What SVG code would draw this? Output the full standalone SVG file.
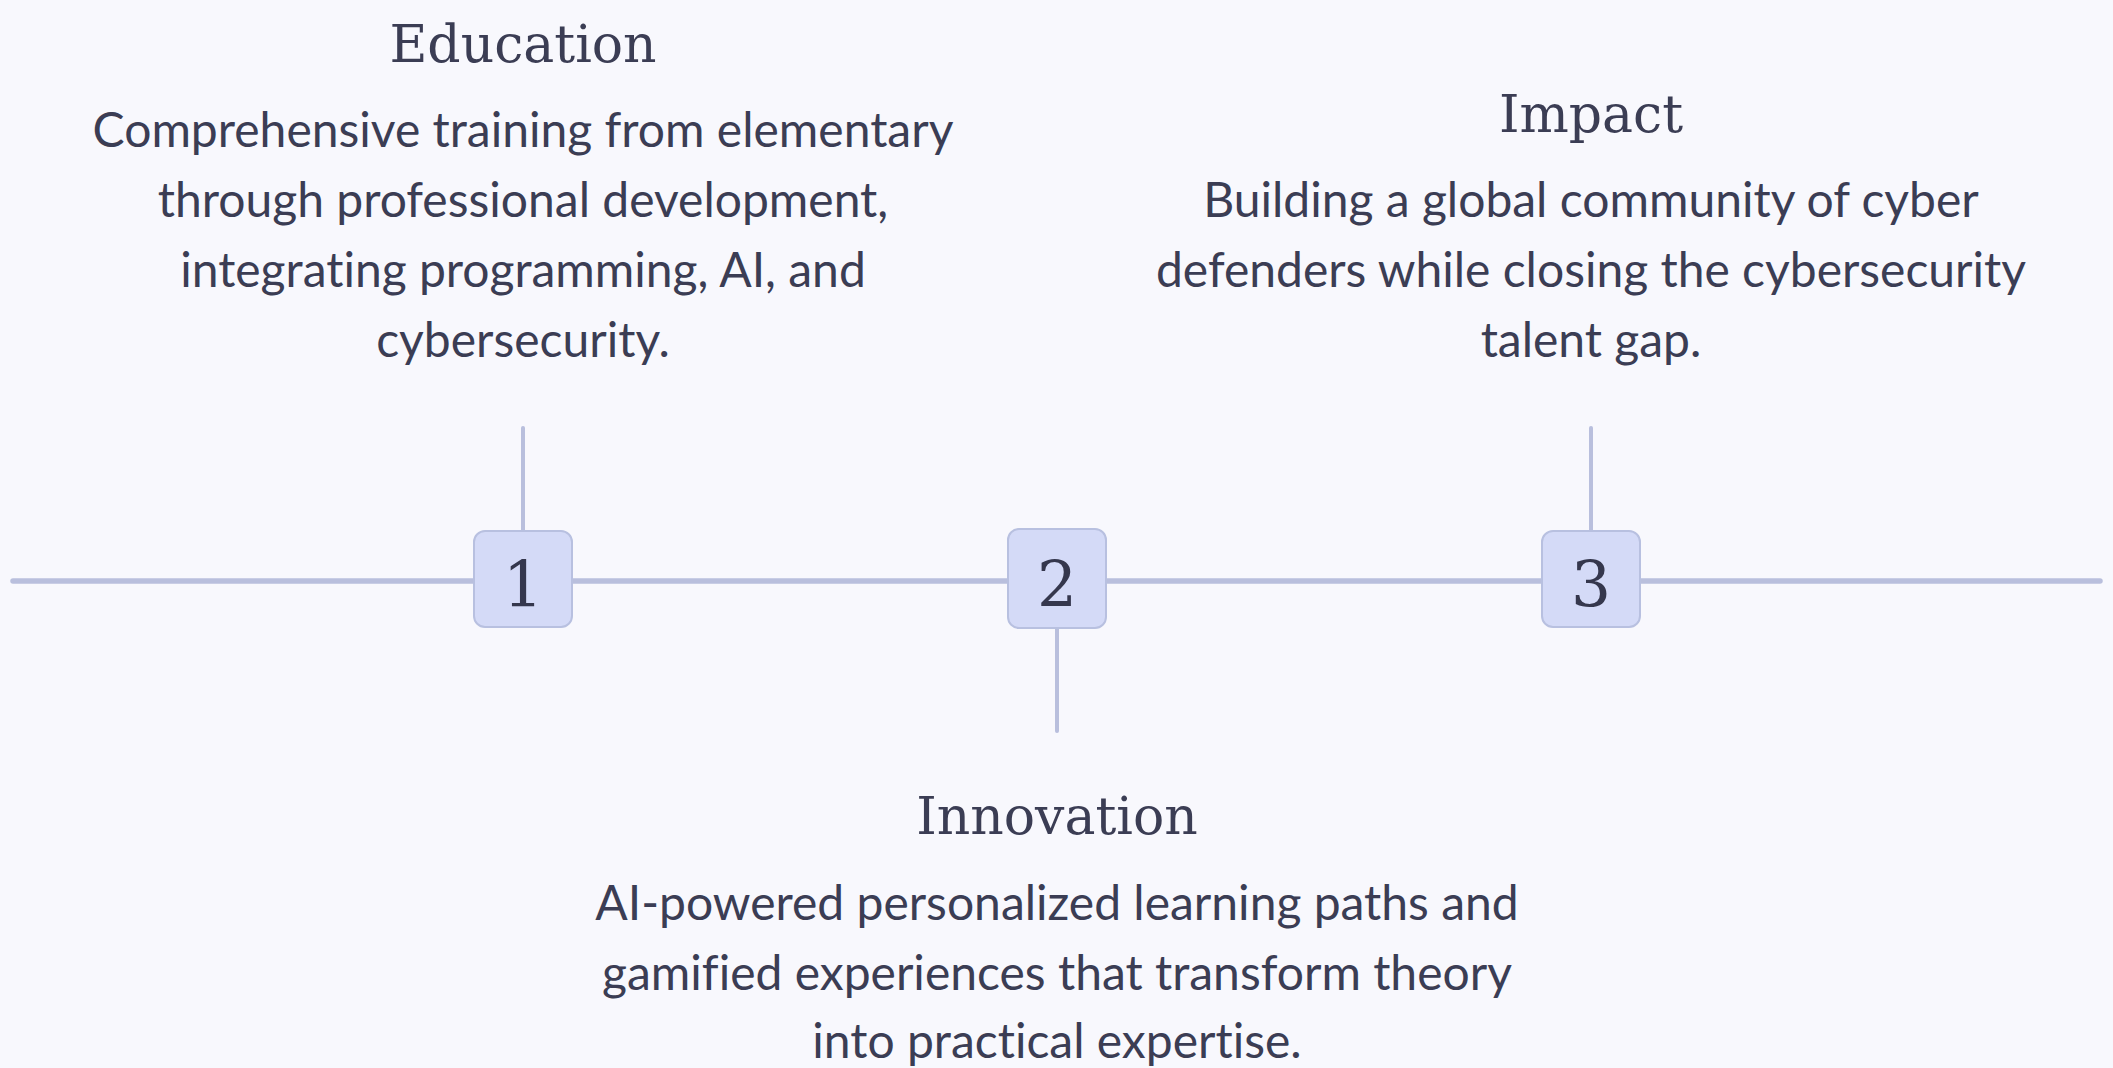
<svg xmlns="http://www.w3.org/2000/svg" width="2113" height="1068" viewBox="0 0 2113 1068">
<style>
.title{font-family:"DejaVu Serif",serif;font-size:52px;fill:#3b3d54;text-anchor:middle}
.body{font-family:Lato,"Liberation Sans",sans-serif;font-size:48px;fill:#3b3d54;text-anchor:middle;font-variant-ligatures:none;font-feature-settings:"liga" 0}
.box{fill:#d4daf7;stroke:#b8c0e0;stroke-width:2}
.num{font-family:"DejaVu Serif",serif;font-size:63px;fill:#35374d;text-anchor:middle}
.line{stroke:#b9bfdd;stroke-linecap:round;fill:none}
</style>
<rect width="2113" height="1068" fill="#f8f8fd"/>
<g id="connectors">
<line class="line" x1="13" y1="581" x2="2100" y2="581" stroke-width="5.5"/>
<line class="line" x1="523" y1="428" x2="523" y2="530" stroke-width="4"/>
<line class="line" x1="1057" y1="628" x2="1057" y2="731" stroke-width="4"/>
<line class="line" x1="1591" y1="428" x2="1591" y2="530" stroke-width="4"/>
</g>
<g id="node-1">
<rect class="box" x="474" y="531" width="98" height="96" rx="11"/>
<text class="num" x="523" y="607">1</text>
</g>
<g id="node-2">
<rect class="box" x="1008" y="529" width="98" height="99" rx="11"/>
<text class="num" x="1057" y="607">2</text>
</g>
<g id="node-3">
<rect class="box" x="1542" y="531" width="98" height="96" rx="11"/>
<text class="num" x="1591" y="607">3</text>
</g>
<g id="label-education">
<text class="title" x="523" y="62">Education</text>
<text class="body" x="523" y="147">Comprehensive training from elementary</text>
<text class="body" x="523" y="217">through professional development,</text>
<text class="body" x="523" y="287">integrating programming, AI, and</text>
<text class="body" x="523" y="357">cybersecurity.</text>
</g>
<g id="label-impact">
<text class="title" x="1591" y="132">Impact</text>
<text class="body" x="1591" y="217">Building a global community of cyber</text>
<text class="body" x="1591" y="287">defenders while closing the cybersecurity</text>
<text class="body" x="1591" y="357">talent gap.</text>
</g>
<g id="label-innovation">
<text class="title" x="1057" y="834">Innovation</text>
<text class="body" x="1057" y="920">AI-powered personalized learning paths and</text>
<text class="body" x="1057" y="990">gamified experiences that transform theory</text>
<text class="body" x="1057" y="1058">into practical expertise.</text>
</g>
</svg>
